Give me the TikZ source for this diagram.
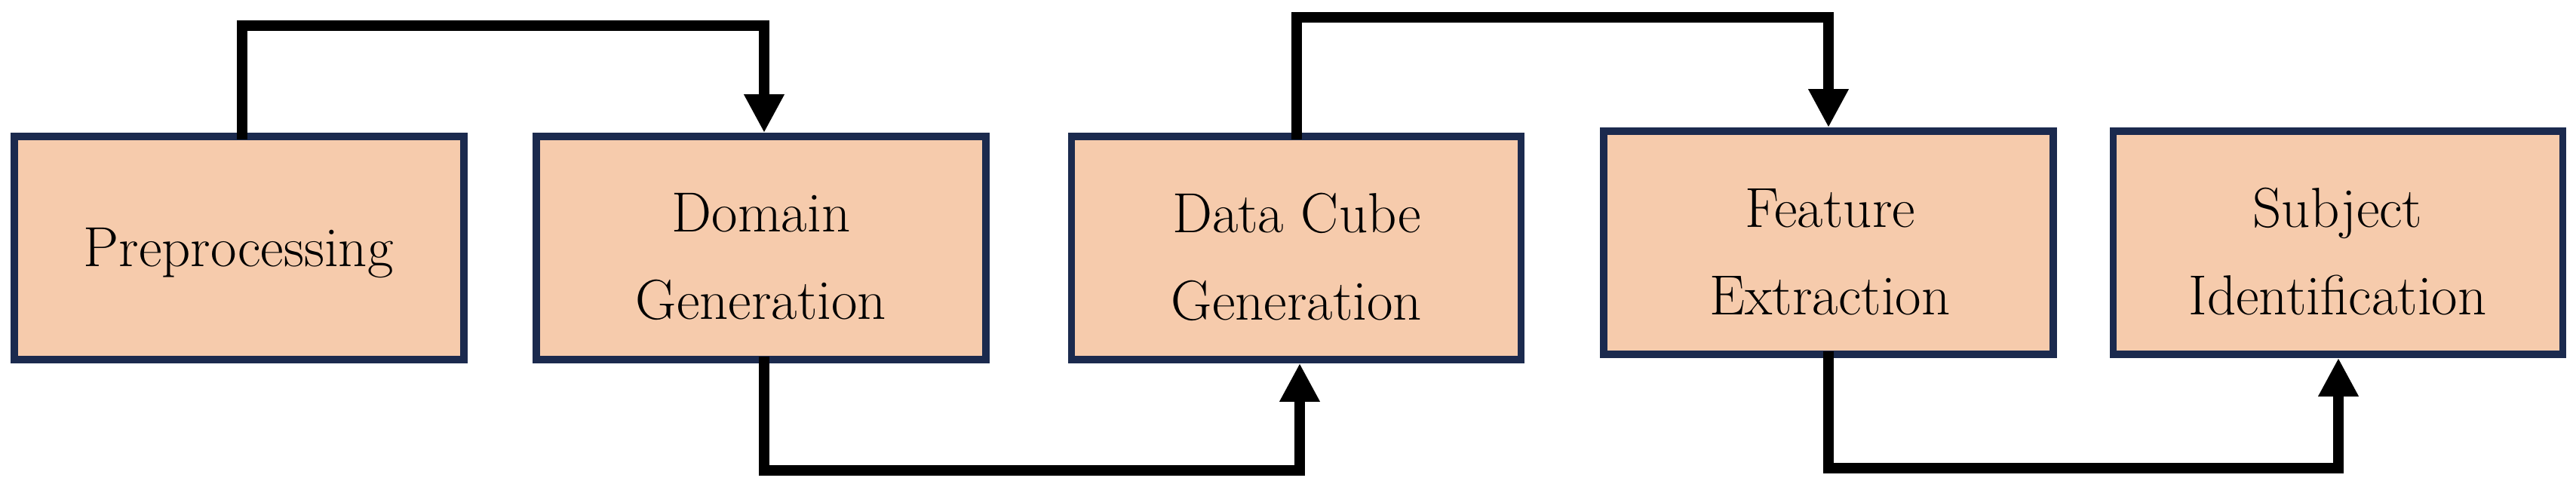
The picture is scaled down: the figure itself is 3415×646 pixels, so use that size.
\documentclass[tikz,border=0pt]{standalone}
\usetikzlibrary{arrows.meta}
\definecolor{boxfill}{HTML}{F6CBAC}
\definecolor{boxline}{HTML}{1B2A4E}
\begin{document}
\begin{tikzpicture}[x=0.01cm,y=-0.01cm,
  stage/.style={draw=boxline, fill=boxfill, line width=0.095cm, minimum width=5.96cm, minimum height=2.96cm, inner sep=0pt},
  lbl/.style={align=center, font=\fontsize{21.3}{33}\selectfont, inner sep=0pt},
  conn/.style={line width=0.135cm, line join=miter, -{Triangle[length=0.51cm,width=0.50cm]}}]
\useasboundingbox (0,0) rectangle (3415,646);
\node[stage] (b1) at (317,329) {};
\node[stage] (b2) at (1009,329) {};
\node[stage] (b3) at (1718.5,329) {};
\node[stage] (b4) at (2424,322) {};
\node[stage] (b5) at (3099.5,322) {};
\node[lbl] (t1) at (316,336) {Preprocessing};
\node[lbl] (t2) at (1009,340.5) {Domain\\Generation};
\node[lbl] (t3) at (1719,340.5) {Data Cube\\Generation};
\node[lbl] (t4) at (2426,334) {Feature\\Extraction};
\node[lbl] (t5) at (3099,333.5) {Subject\\Identif{}ication};
\coordinate (k1) at (321,34);
\coordinate (k2) at (1013,34);
\coordinate (k3) at (1013,624);
\coordinate (k4) at (1723,624);
\coordinate (k5) at (1719,23);
\coordinate (k6) at (2424,23);
\coordinate (k7) at (2424,621);
\coordinate (k8) at (3100,621);
\draw[conn] (b1.north -| k1) ++(0,9) -- (k1) -- (k2) -- (b2.north -| k2);
\draw[conn] (b2.south -| k3) ++(0,-9) -- (k3) -- (k4) -- (b3.south -| k4);
\draw[conn] (b3.north -| k5) ++(0,9) -- (k5) -- (k6) -- (b4.north -| k6);
\draw[conn] (b4.south -| k7) ++(0,-9) -- (k7) -- (k8) -- (b5.south -| k8);
\end{tikzpicture}
\end{document}
